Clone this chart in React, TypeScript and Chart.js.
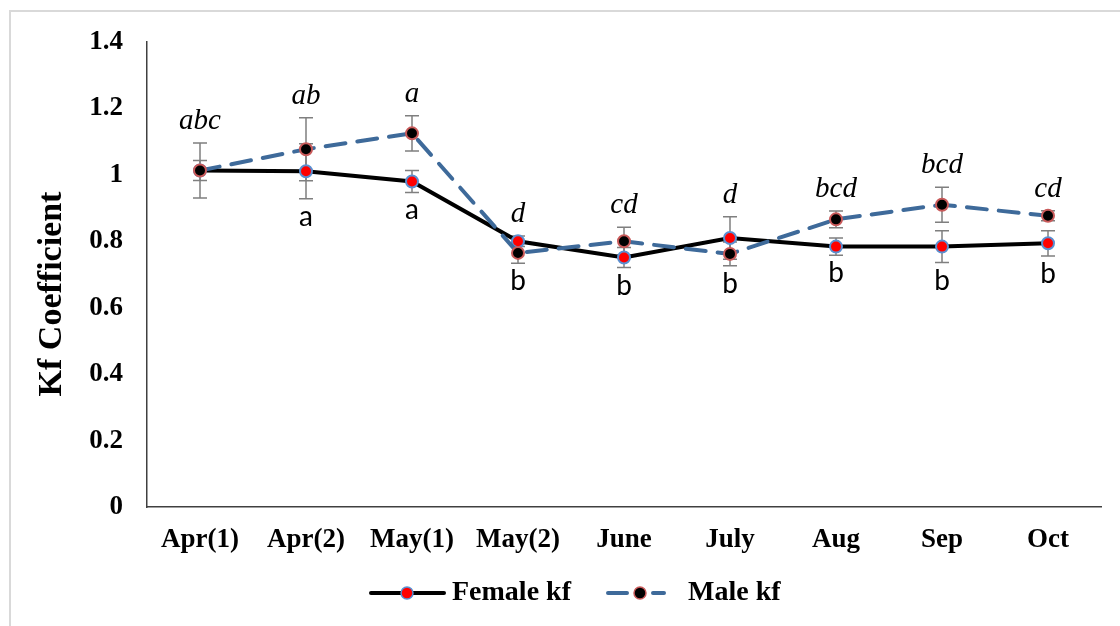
import React, { useEffect, useRef } from 'react';
import { Chart, registerables } from 'chart.js';

Chart.register(...registerables);

const categories = ['Apr(1)', 'Apr(2)', 'May(1)', 'May(2)', 'June', 'July', 'Aug', 'Sep', 'Oct'];
const femaleKf = [1.013, 1.011, 0.98, 0.8, 0.751, 0.81, 0.784, 0.784, 0.794];
const maleKf = [1.013, 1.077, 1.125, 0.765, 0.8, 0.762, 0.866, 0.91, 0.877];
const femaleErr = [0.03, 0.083, 0.033, 0.016, 0.03, 0.064, 0.026, 0.048, 0.038];
const maleErr = [0.083, 0.095, 0.053, 0.031, 0.042, 0.036, 0.025, 0.053, 0.015];
const femaleLetters = ['', 'a', 'a', 'b', 'b', 'b', 'b', 'b', 'b'];
const maleLetters = ['abc', 'ab', 'a', 'd', 'cd', 'd', 'bcd', 'bcd', 'cd'];
const yMin = 0;
const yMax = 1.4;
const yStep = 0.2;
const yTitle = 'Kf Coefficient';
const legendNames = ['Female kf', 'Male kf'];

const SERIF = '"Liberation Serif", "DejaVu Serif", serif';
const SANS = 'Lato, "Liberation Sans", sans-serif';

const FEMALE_LINE = '#000000';
const FEMALE_FILL = '#ff0000';
const FEMALE_RING = '#5b8fd0';
const MALE_LINE = '#3e6a9a';
const MALE_FILL = '#000000';
const MALE_RING = '#c95a5a';
const ERR_COLOR = '#7f7f7f';

const framePlugin = {
  id: 'frame',
  beforeDraw(chart: any) {
    const { ctx, width, height } = chart;
    ctx.save();
    ctx.fillStyle = '#ffffff';
    ctx.fillRect(0, 0, width, height);
    ctx.strokeStyle = '#d9d9d9';
    ctx.lineWidth = 2;
    ctx.strokeRect(10, 11, width + 50, height + 50);
    ctx.restore();
  },
  afterDraw(chart: any) {
    const { ctx } = chart;
    ctx.save();
    ctx.translate(52, 294);
    ctx.rotate(-Math.PI / 2);
    ctx.fillStyle = '#000';
    ctx.font = `bold 34px ${SERIF}`;
    ctx.textAlign = 'center';
    ctx.textBaseline = 'middle';
    ctx.fillText(yTitle, 0, 0);
    ctx.restore();
  },
};

const errorBarPlugin = {
  id: 'errorBars',
  beforeDatasetsDraw(chart: any) {
    const { ctx } = chart;
    const y = chart.scales.y;
    const errs = [femaleErr, maleErr];
    const vals = [femaleKf, maleKf];
    ctx.save();
    ctx.strokeStyle = ERR_COLOR;
    ctx.lineWidth = 1.5;
    for (let d = 0; d < 2; d++) {
      const meta = chart.getDatasetMeta(d);
      meta.data.forEach((pt: any, i: number) => {
        const x = pt.x;
        const top = y.getPixelForValue(vals[d][i] + errs[d][i]);
        const bot = y.getPixelForValue(vals[d][i] - errs[d][i]);
        ctx.beginPath();
        ctx.moveTo(x, top);
        ctx.lineTo(x, bot);
        ctx.moveTo(x - 7, top);
        ctx.lineTo(x + 7, top);
        ctx.moveTo(x - 7, bot);
        ctx.lineTo(x + 7, bot);
        ctx.stroke();
      });
    }
    ctx.restore();
  },
};

const letterPlugin = {
  id: 'letters',
  afterDatasetsDraw(chart: any) {
    const { ctx } = chart;
    const y = chart.scales.y;
    const meta = chart.getDatasetMeta(0);
    ctx.save();
    ctx.fillStyle = '#000';
    ctx.textAlign = 'center';
    ctx.textBaseline = 'alphabetic';
    meta.data.forEach((pt: any, i: number) => {
      const x = pt.x;
      const topVal = Math.max(femaleKf[i] + femaleErr[i], maleKf[i] + maleErr[i]);
      const botVal = Math.min(femaleKf[i] - femaleErr[i], maleKf[i] - maleErr[i]);
      const top = y.getPixelForValue(topVal);
      const bot = y.getPixelForValue(botVal);
      ctx.font = `italic 29px ${SERIF}`;
      if (maleLetters[i]) ctx.fillText(maleLetters[i], x, top - 14);
      ctx.font = `28px ${SANS}`;
      if (femaleLetters[i]) ctx.fillText(femaleLetters[i], x, bot + 27);
    });
    ctx.restore();
  },
};

const legendPlugin = {
  id: 'customLegend',
  afterDraw(chart: any) {
    const { ctx } = chart;
    const cy = 593;
    ctx.save();
    ctx.lineCap = 'round';
    // Female
    ctx.strokeStyle = FEMALE_LINE;
    ctx.lineWidth = 4;
    ctx.beginPath();
    ctx.moveTo(371, cy);
    ctx.lineTo(444, cy);
    ctx.stroke();
    ctx.beginPath();
    ctx.arc(407, cy, 6, 0, Math.PI * 2);
    ctx.fillStyle = FEMALE_FILL;
    ctx.fill();
    ctx.lineWidth = 1.5;
    ctx.strokeStyle = FEMALE_RING;
    ctx.stroke();
    // Male
    ctx.strokeStyle = MALE_LINE;
    ctx.lineWidth = 4;
    ctx.beginPath();
    ctx.moveTo(608, cy);
    ctx.lineTo(627, cy);
    ctx.moveTo(653, cy);
    ctx.lineTo(664, cy);
    ctx.stroke();
    ctx.beginPath();
    ctx.arc(640, cy, 6, 0, Math.PI * 2);
    ctx.fillStyle = MALE_FILL;
    ctx.fill();
    ctx.lineWidth = 1.5;
    ctx.strokeStyle = MALE_RING;
    ctx.stroke();
    // Text
    ctx.fillStyle = '#000';
    ctx.font = `bold 28px ${SERIF}`;
    ctx.textAlign = 'left';
    ctx.textBaseline = 'middle';
    ctx.fillText(legendNames[0], 452, cy);
    ctx.fillText(legendNames[1], 688, cy);
    ctx.restore();
  },
};

export default function App() {
  const ref = useRef<HTMLCanvasElement | null>(null);

  useEffect(() => {
    document.body.style.margin = '0';
    if (!ref.current) return;
    const chart = new Chart(ref.current, {
      type: 'line',
      data: {
        labels: categories,
        datasets: [
          {
            label: legendNames[0],
            data: femaleKf,
            borderColor: FEMALE_LINE,
            borderWidth: 4,
            pointBackgroundColor: FEMALE_FILL,
            pointBorderColor: FEMALE_RING,
            pointBorderWidth: 2,
            pointRadius: 6,
            tension: 0,
            order: 2,
          },
          {
            label: legendNames[1],
            data: maleKf,
            borderColor: MALE_LINE,
            borderWidth: 4,
            borderDash: [20, 12],
            borderCapStyle: 'round',
            pointBackgroundColor: MALE_FILL,
            pointBorderColor: MALE_RING,
            pointBorderWidth: 2,
            pointRadius: 6,
            tension: 0,
            order: 1,
          },
        ],
      },
      options: {
        animation: false,
        responsive: false,
        devicePixelRatio: 1,
        layout: { padding: { top: 42, right: 19, left: 0, bottom: 0 } },
        plugins: {
          legend: { display: false },
          tooltip: { enabled: false },
          title: { display: false },
        },
        scales: {
          x: {
            offset: true,
            grid: { display: false, drawTicks: false },
            border: { display: true, color: '#404040', width: 1.5 },
            ticks: {
              color: '#000',
              font: { family: SERIF, size: 27, weight: 'bold' },
              padding: 17,
              autoSkip: false,
              maxRotation: 0,
              minRotation: 0,
            },
            afterFit(scale: any) {
              scale.height = 119;
            },
          },
          y: {
            min: yMin,
            max: yMax,
            grid: { display: false, drawTicks: false },
            border: { display: true, color: '#404040', width: 1.5 },
            ticks: {
              stepSize: yStep,
              color: '#000',
              font: { family: SERIF, size: 27, weight: 'bold' },
              padding: 24,
              callback: (v: any) => String(Number(Number(v).toFixed(1))),
            },
            afterFit(scale: any) {
              scale.width = 147;
            },
          },
        },
      } as any,
      plugins: [framePlugin, errorBarPlugin, letterPlugin, legendPlugin],
    });
    return () => chart.destroy();
  }, []);

  return (
    <div style={{ width: 1120, height: 626 }}>
      <canvas ref={ref} width={1120} height={626} style={{ display: 'block', width: 1120, height: 626 }} />
    </div>
  );
}
